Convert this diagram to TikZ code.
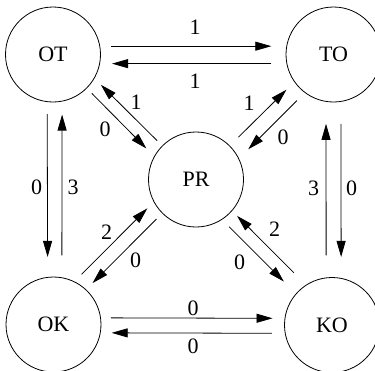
\documentclass[tikz,border=0pt]{standalone}
\usepackage{fontspec}
\setmainfont{Liberation Serif}
\newfontfamily\statefont{Liberation Serif}
\usepackage{tikz}
\usetikzlibrary{arrows.meta}

\begin{document}
\begin{tikzpicture}[x=1pt,y=-1pt,line width=0.8pt,
  every node/.style={font=\statefont\fontsize{22}{25}\selectfont},
  state/.style={circle, draw, minimum size=95pt, inner sep=0pt},
  lbl/.style={inner sep=0pt},
  arr/.style={-{Triangle[length=16pt,width=9pt]}}]
\useasboundingbox (0,0) rectangle (375,370);

% States
\node[state] (OT) at (53,54.5) {OT};
\node[state] (TO) at (333.5,54.5) {TO};
\node[state] (PR) at (196,179.5) {PR};
\node[state] (OK) at (53.5,324.5) {OK};
\node[state] (KO) at (332,325) {KO};

% Labels
\node[lbl] (lOTTO) at (195,27) {1};
\node[lbl] (lTOOT) at (195,81.5) {1};
\node[lbl] (lOTOK) at (36.5,187.5) {0};
\node[lbl] (lOKOT) at (73,187.5) {3};
\node[lbl] (lKOTO) at (313.5,188) {3};
\node[lbl] (lTOKO) at (351.5,188) {0};
\node[lbl] (lOKKO) at (193,308.5) {0};
\node[lbl] (lKOOK) at (193,346.5) {0};
\node[lbl] (lPROT) at (136,102) {1};
\node[lbl] (lOTPR) at (105,129) {0};
\node[lbl] (lPRTO) at (249,103) {1};
\node[lbl] (lTOPR) at (283,137) {0};
\node[lbl] (lOKPR) at (106.5,232) {2};
\node[lbl] (lPROK) at (135.5,260) {0};
\node[lbl] (lKOPR) at (274.5,229.5) {2};
\node[lbl] (lPRKO) at (239.5,262.5) {0};

%Lines
\draw[arr, shorten <=11pt, shorten >=15pt] (OT.10) -- (TO.170);
\draw[arr, shorten <=15pt, shorten >=12pt] (TO.191) -- (OT.349);
\draw[arr, shorten <=12pt, shorten >=20pt] (OT.263) -- (OK.97);
\draw[arr, shorten <=22pt, shorten >=13pt] (OK.80) -- (OT.281);
\draw[arr, shorten <=22pt, shorten >=21pt] (TO.279) -- (KO.79);
\draw[arr, shorten <=22pt, shorten >=22pt] (KO.97) -- (TO.261);
\draw[arr, shorten <=10pt, shorten >=12pt] (OK.8) -- (KO.172);
\draw[arr, shorten <=13pt, shorten >=11pt] (KO.190) -- (OK.350);
\draw[arr, shorten <=7pt, shorten >=11pt] (OT.315) -- (PR.151);
\draw[arr, shorten <=7pt, shorten >=9pt] (PR.135) -- (OT.330);
\draw[arr, shorten <=11pt, shorten >=13pt] (TO.233) -- (PR.26);
\draw[arr, shorten <=12pt, shorten >=11pt] (PR.45) -- (TO.215);
\draw[arr, shorten <=10pt, shorten >=9pt] (OK.64) -- (PR.208);
\draw[arr, shorten <=8pt, shorten >=9pt] (PR.225) -- (OK.47);
\draw[arr, shorten <=17pt, shorten >=7pt] (KO.123) -- (PR.319);
\draw[arr, shorten <=10pt, shorten >=17pt] (PR.303) -- (KO.139);
\end{tikzpicture}
\end{document}
